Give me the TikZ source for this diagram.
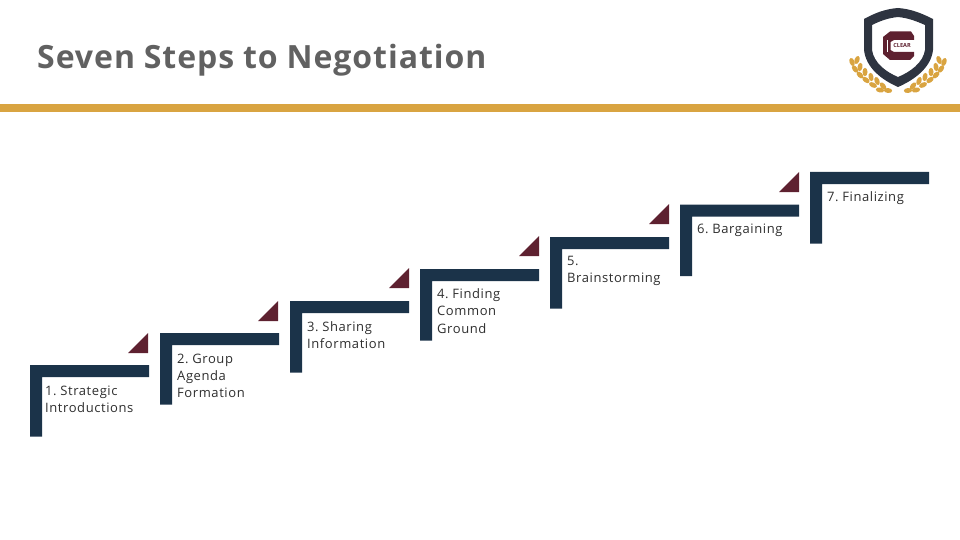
\documentclass[tikz,border=0pt]{standalone}
\usepackage{fontspec}
\setmainfont{Open Sans}
\newfontfamily\ttlfont[LetterSpace=3,WordSpace=0.95]{Open Sans}
\newfontfamily\lblfont[LetterSpace=4.5,WordSpace=0.6]{Open Sans}
\usepackage{xcolor}
\usetikzlibrary{positioning}
\definecolor{navyc}{HTML}{1B3349}
\definecolor{maroonc}{HTML}{5E2130}
\definecolor{goldc}{HTML}{D9A441}
\definecolor{slatec}{HTML}{2E3440}
\tikzset{
  ttl/.style   = {font=\ttlfont\fontsize{32}{36}\selectfont\bfseries, text=black!62, inner sep=0pt, anchor=west},
  lbl/.style   = {font=\lblfont\fontsize{13}{17.3}\selectfont, text=black!82, align=left, inner sep=0pt, anchor=west},
  leaf/.style  = {fill=goldc, draw=none},
  pics/stair/.style = {code={
    \fill[navyc] (0,0) -- (119,0) -- (119,12) -- (12,12) -- (12,71.5) -- (0,71.5) -- cycle;
  }},
  pics/flag/.style = {code={
    \fill[maroonc] (-20,20) -- (0,0) -- (0,20) -- cycle;
  }},
}
\begin{document}
\begin{tikzpicture}[x=1pt,y=-1pt]
  \useasboundingbox (0,0) rectangle (960,540);
  \node[ttl] (title) at (37,60) {Seven Steps to Negotiation};
  \node[fill=goldc, minimum width=960pt, minimum height=8pt, inner sep=0pt, anchor=north west] (rule) at (0,104) {};
  % steps
  \coordinate (s1) at (30,365);
  \coordinate (s2) at (160,333);
  \coordinate (s3) at (290,301);
  \coordinate (s4) at (420,269);
  \coordinate (s5) at (550,237);
  \coordinate (s6) at (680,204.5);
  \coordinate (s7) at (810,172);
  \pic at (s1) {stair};
  \pic at (s2) {stair};
  \pic at (s3) {stair};
  \pic at (s4) {stair};
  \pic at (s5) {stair};
  \pic at (s6) {stair};
  \pic at (s7) {stair};
  \pic at (148,333) {flag};
  \pic at (278,301) {flag};
  \pic at (409,268) {flag};
  \pic at (539,236) {flag};
  \pic at (669,204) {flag};
  \pic at (799,172) {flag};
  % labels
  \node[lbl] (t1) at (45,399) {1. Strategic\\Introductions};
  \node[lbl] (t2) at (177,375.8) {2. Group\\Agenda\\Formation};
  \node[lbl] (t3) at (307,334.8) {3. Sharing\\Information};
  \node[lbl] (t4) at (437,311) {4. Finding\\Common\\Ground};
  \node[lbl] (t5) at (567,270.8) {5.\\Brainstorming};
  \node[lbl] (t6) at (697,229.8) {6. Bargaining};
  \node[lbl] (t7) at (827,197.8) {7. Finalizing};
  % logo
  \fill[slatec, even odd rule] (898,8) .. controls (885,9) and (875,13) .. (864,19) -- (864,50) .. controls (866,68) and (882,80) .. (898,87) .. controls (914,80) and (931,68) .. (933,50) -- (933,19) .. controls (921,13) and (911,9) .. (898,8) -- cycle
    (898,17) .. controls (888,18) and (880,21) .. (872,25) -- (872,50) .. controls (874,63) and (886,72) .. (898,77) .. controls (910,72) and (923,63) .. (925,50) -- (925,25) .. controls (916,21) and (908,18) .. (898,17) -- cycle;
  \fill[maroonc] (890,31.5) -- (911,31.5) -- (914,36) -- (914,40) -- (894,40) -- (890.5,42) -- (890.5,50) -- (894,52) -- (914,52) -- (914,56) -- (910,60) -- (890,60) -- (883,54) -- (883,37) -- cycle;
  \draw[white, line width=0.8pt] (887,40) -- (887,52);
  \node[font=\fontsize{5.6}{6}\selectfont\bfseries, text=maroonc, inner sep=0pt] (clear) at (902,46) {CLEAR};
  \foreach \x/\y/\a in {852/62/110, 855/69/125, 860/75/135, 866/80/145, 873/85/155, 880/90/170,
                        857/60/70, 860/67/80, 865/72/90, 871/77/100, 877/81/110, 883/86/130, 888/90.5/175}{
    \fill[leaf, rotate around={\a:(\x,\y)}] (\x,\y) ellipse (4.2 and 2.5);
    \fill[leaf, rotate around={-\a:(1796-\x,\y)}] (1796-\x,\y) ellipse (4.2 and 2.5);
  }
\end{tikzpicture}
\end{document}
